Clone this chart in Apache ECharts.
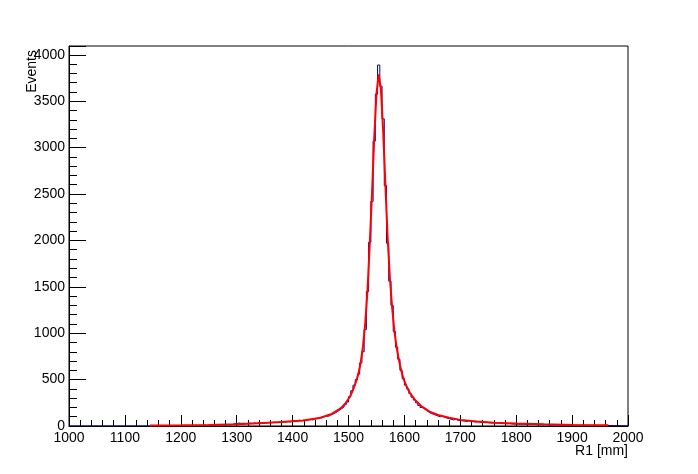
<!DOCTYPE html>
<html>
<head>
<meta charset="utf-8">
<script src="https://cdn.jsdelivr.net/npm/echarts@6/dist/echarts.min.js"></script>
<style>html,body{margin:0;padding:0;background:#fff;}#c{width:698px;height:474px;}</style>
</head>
<body>
<div id="c"></div>
<script>
// Histogram: 250 bins of 4 mm from 1000 to 2000
var binStart = 1000;
var binWidth = 4;
var counts = [
  0,0,0,0,0,0,0,0,0,0,
  0,0,0,0,0,0,0,0,0,0,
  0,0,0,0,0,0,0,0,0,0,
  0,0,0,0,0,1,0,2,1,2,
  3,1,2,3,2,4,3,2,4,5,
  3,4,6,5,4,6,7,5,8,6,
  9,7,8,10,9,8,11,10,12,11,
  13,12,14,26,22,33,28,30,26,29,
  31,27,33,30,36,32,29,35,38,34,
  37,41,36,44,40,46,43,48,45,52,
  58,54,62,57,64,60,68,72,66,75,
  82,90,86,98,108,104,118,128,140,155,
  170,188,205,230,258,316,380,440,500,560,
  680,800,1040,1450,1980,2420,3070,3576,3890,3662,
  3310,2590,1970,1560,1300,1020,850,720,600,510,
  440,400,350,310,280,250,222,200,185,165,
  150,136,126,118,108,100,110,92,86,80,
  72,66,73,62,58,56,52,50,57,48,
  46,43,47,41,38,37,40,35,33,35,
  31,37,29,27,26,24,26,23,21,20,
  19,18,20,17,16,18,15,16,14,15,
  14,13,15,12,13,12,11,13,11,10,
  11,10,9,11,10,9,10,8,9,8,
  8,9,7,8,7,8,7,6,7,6,
  6,5,6,4,5,3,4,3,2,3
];
// Fit curve sample points
var fitX = [1145,1200,1250,1300,1340,1380,1420,1450,1470,1486,1494,1502,1506,1510,1514,1518,1522,1526,1530,1534,1538,1542,1546,1550,1554,1558,1562,1566,1570,1574,1578,1582,1586,1590,1594,1598,1604,1610,1620,1630,1645,1660,1680,1700,1730,1760,1800,1850,1900,1965];
var fitY = [5,8,12,20,30,42,60,90,130,190,240,310,360,420,485,570,690,860,1110,1460,1960,2500,3100,3580,3790,3630,3180,2600,2030,1600,1280,1030,850,715,605,515,425,355,275,215,155,118,88,66,48,36,26,18,12,8];
var xTicks = [1000,1100,1200,1300,1400,1500,1600,1700,1800,1900,2000];
var yTicks = [0,500,1000,1500,2000,2500,3000,3500,4000];

var histData = [];
for (var i = 0; i < counts.length; i++) histData.push([binStart + i * binWidth, counts[i]]);
histData.push([binStart + counts.length * binWidth, counts[counts.length - 1]]);
var fitData = fitX.map(function (x, k) { return [x, fitY[k]]; });

var FONT = '"Liberation Sans", Arial, sans-serif';
var chart = echarts.init(document.getElementById('c'), null, {renderer: 'canvas'});
chart.setOption({
  animation: false,
  backgroundColor: '#fff',
  grid: {left: 69, right: 70, top: 46, bottom: 48, show: true, borderColor: '#000', borderWidth: 1, backgroundColor: 'transparent'},
  xAxis: {
    type: 'value', min: xTicks[0], max: xTicks[xTicks.length - 1], interval: 100,
    axisLine: {show: true, lineStyle: {color: '#000', width: 1}},
    axisTick: {show: true, inside: true, length: 11, lineStyle: {color: '#000'}},
    minorTick: {show: true, splitNumber: 5, length: 6, lineStyle: {color: '#000'}},
    splitLine: {show: false},
    axisLabel: {color: '#000', fontSize: 14, fontFamily: FONT, margin: 5,
      formatter: function (v) { return xTicks.indexOf(v) >= 0 ? String(v) : ''; }}
  },
  yAxis: {
    type: 'value', min: 0, max: 4095, interval: 500,
    axisLine: {show: true, lineStyle: {color: '#000', width: 1}},
    axisTick: {show: true, inside: true, length: 17, lineStyle: {color: '#000'}},
    minorTick: {show: true, splitNumber: 5, length: 8, lineStyle: {color: '#000'}},
    splitLine: {show: false},
    axisLabel: {color: '#000', fontSize: 14, fontFamily: FONT, margin: 4,
      formatter: function (v) { return yTicks.indexOf(v) >= 0 ? String(v) : ''; }}
  },
  graphic: [
    {type: 'text', x: 628, y: 444, style: {text: 'R1 [mm]', align: 'right', verticalAlign: 'top', fill: '#000', font: '14px ' + FONT}},
    {type: 'text', x: 25, y: 50, rotation: Math.PI / 2, style: {text: 'Events', align: 'right', verticalAlign: 'top', fill: '#000', font: '14px ' + FONT}}
  ],
  series: [
    {type: 'line', step: 'end', data: histData, symbol: 'none', lineStyle: {color: '#000099', width: 1}, z: 2},
    {type: 'line', data: fitData, symbol: 'none', smooth: false, lineStyle: {color: '#ff0000', width: 2}, z: 3}
  ]
});
</script>
</body>
</html>
